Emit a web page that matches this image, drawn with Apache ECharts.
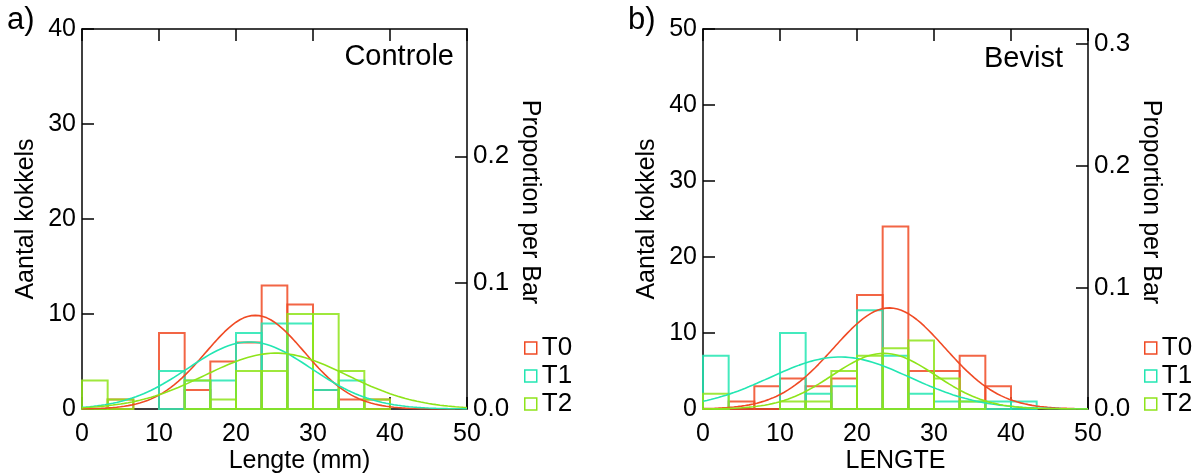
<!DOCTYPE html>
<html>
<head>
<meta charset="utf-8">
<script src="https://cdn.jsdelivr.net/npm/echarts@6/dist/echarts.min.js"></script>
<style>
  html, body { margin: 0; padding: 0; background: #fff; }
  #chart { width: 1200px; height: 474px; }
</style>
</head>
<body>
<div id="chart"></div>
<script>
// Histogram bin edges (mm), shared by both panels
const binEdges = [0, 3.333, 6.667, 10, 13.333, 16.667, 20, 23.333, 26.667, 30, 33.333, 36.667, 40, 43.333];
const groups = ['T0', 'T1', 'T2'];
const groupColors = ['#f04a24', '#22e6b2', '#8ee41a'];

// Panel a) Controle: counts per bin
const controleT0 = [0, 1, 0, 8, 2, 5, 7, 13, 11, 2, 1, 1, 0];
const controleT1 = [0, 0, 0, 4, 3, 3, 8, 9, 9, 2, 3, 0, 0];
const controleT2 = [3, 1, 0, 0, 3, 1, 4, 4, 10, 10, 4, 1, 0];
// Fitted normal curves for Controle: mean, sd, peak height (count)
const controleMean = [22.5, 21.75, 25.2];
const controleSd = [6.4, 8.0, 9.2];
const controlePeak = [9.86, 7.06, 5.88];

// Panel b) Bevist: counts per bin
const bevistT0 = [0, 1, 3, 4, 3, 4, 15, 24, 5, 5, 7, 3, 0];
const bevistT1 = [7, 0, 0, 10, 2, 3, 13, 7, 2, 1, 1, 1, 1];
const bevistT2 = [2, 0, 0, 1, 1, 5, 7, 8, 9, 4, 1, 0, 0];
const bevistMean = [24.2, 17.8, 23.5];
const bevistSd = [7.2, 9.1, 6.7];
const bevistPeak = [13.3, 6.84, 7.32];

// Axis tick values
const controlePropTicks = [0, 0.1, 0.2];
const bevistPropTicks = [0, 0.1, 0.2, 0.3];

const FONT = "'Liberation Sans', Arial, Helvetica, sans-serif";
const TXT = { color: '#000', fontFamily: FONT, fontSize: 25 };

function binData(counts) {
  const out = [];
  counts.forEach((c, i) => { if (c > 0) out.push([binEdges[i], binEdges[i + 1], c]); });
  return out;
}

function curveData(mean, sd, peak) {
  const pts = [];
  for (let k = 0; k <= 200; k++) {
    const x = k * 0.25;
    pts.push([x, peak * Math.exp(-((x - mean) * (x - mean)) / (2 * sd * sd))]);
  }
  return pts;
}

function sum(a) { return a.reduce((s, v) => s + v, 0); }

const chart = echarts.init(document.getElementById('chart'), null, { renderer: 'canvas' });

const panels = [
  { left: 82, right: 733, yMax: 40, propTicks: controlePropTicks,
    counts: [controleT0, controleT1, controleT2], mean: controleMean, sd: controleSd, peak: controlePeak,
    xName: 'Lengte (mm)', xNamePad: [0, 0, 0, 50] },
  { left: 703, right: 112, yMax: 50, propTicks: bevistPropTicks,
    counts: [bevistT0, bevistT1, bevistT2], mean: bevistMean, sd: bevistSd, peak: bevistPeak,
    xName: 'LENGTE', xNamePad: [0, 0, 0, 0] }
];

const grid = [], xAxis = [], yAxis = [], series = [];
const axisLine = { show: true, onZero: false, lineStyle: { color: '#000', width: 1.5 } };
const tick = { show: true, inside: true, length: 12, lineStyle: { color: '#000', width: 1.5 } };

panels.forEach((p, gi) => {
  const total = sum(p.counts[0]) + sum(p.counts[1]) + sum(p.counts[2]);
  grid.push({ left: p.left, right: p.right, top: 29, height: 380, containLabel: false, outerBoundsMode: 'none' });
  // bottom x axis
  xAxis.push({ type: 'value', gridIndex: gi, min: 0, max: 50, interval: 10, position: 'bottom',
    axisLine, axisTick: tick, splitLine: { show: false },
    axisLabel: { ...TXT, margin: 13 },
    name: p.xName, nameLocation: 'middle', nameGap: 40, nameMoveOverlap: false,
    nameTextStyle: { ...TXT, fontSize: 25, padding: p.xNamePad } });
  // top frame axis
  xAxis.push({ type: 'value', gridIndex: gi, min: 0, max: 50, interval: 10, position: 'top',
    axisLine, axisTick: tick, splitLine: { show: false }, axisLabel: { show: false } });
  // left count axis
  yAxis.push({ type: 'value', gridIndex: gi, min: 0, max: p.yMax, interval: 10, position: 'left',
    axisLine, axisTick: tick, splitLine: { show: false },
    axisLabel: { ...TXT, margin: 6 },
    name: 'Aantal kokkels', nameLocation: 'middle', nameGap: 43, nameTextStyle: { ...TXT, fontSize: 25 } });
  // right proportion axis
  yAxis.push({ type: 'value', gridIndex: gi, min: 0, max: p.yMax / total, position: 'right',
    axisLine, splitLine: { show: false },
    axisTick: { ...tick, customValues: p.propTicks },
    axisLabel: { ...TXT, fontSize: 26, margin: 6, customValues: p.propTicks, formatter: v => v.toFixed(1) },
    name: 'Proportion per Bar', nameLocation: 'middle', nameGap: 50, nameRotate: -90,
    nameTextStyle: { ...TXT, fontSize: 25, padding: [0, 34, 0, 0] } });

  const xi = gi * 2, yi = gi * 2;
  groups.forEach((g, k) => {
    series.push({
      name: g, type: 'custom', xAxisIndex: xi, yAxisIndex: yi,
      data: binData(p.counts[k]),
      renderItem: (params, api) => {
        const a = api.coord([api.value(0), api.value(2)]);
        const b = api.coord([api.value(1), 0]);
        return { type: 'rect', shape: { x: a[0], y: a[1], width: b[0] - a[0], height: b[1] - a[1] },
          style: { fill: 'none', stroke: groupColors[k], lineWidth: 2, opacity: 0.85 } };
      },
      itemStyle: { color: groupColors[k] }, z: 2, silent: true
    });
    series.push({
      name: g, type: 'line', xAxisIndex: xi, yAxisIndex: yi,
      data: curveData(p.mean[k], p.sd[k], p.peak[k]),
      showSymbol: false, symbol: 'none', smooth: false,
      lineStyle: { color: groupColors[k], width: 1.6 }, itemStyle: { color: groupColors[k] },
      z: 3, silent: true, animation: false
    });
  });
});

const legendItems = groups.map((g, k) => ({
  name: g, icon: 'rect',
  itemStyle: { color: '#fff', borderColor: groupColors[k], borderWidth: 1.5 }
}));

chart.setOption({
  animation: false,
  backgroundColor: '#fff',
  grid, xAxis, yAxis, series,
  legend: [
    { data: legendItems, orient: 'vertical', left: 519, top: 330, itemWidth: 12, itemHeight: 12,
      itemGap: 2, textStyle: { ...TXT, fontSize: 26 }, selectedMode: false },
    { data: legendItems, orient: 'vertical', left: 1139, top: 330, itemWidth: 12, itemHeight: 12,
      itemGap: 2, textStyle: { ...TXT, fontSize: 26 }, selectedMode: false }
  ],
  graphic: [
    { type: 'text', left: 7, top: 5, style: { text: 'a)', font: `31px ${FONT}`, fill: '#000' } },
    { type: 'text', left: 628, top: 5, style: { text: 'b)', font: `31px ${FONT}`, fill: '#000' } },
    { type: 'text', right: 746, top: 42, style: { text: 'Controle', font: `29px ${FONT}`, fill: '#000' } },
    { type: 'text', right: 137, top: 44, style: { text: 'Bevist', font: `29px ${FONT}`, fill: '#000' } }
  ]
});
</script>
</body>
</html>
